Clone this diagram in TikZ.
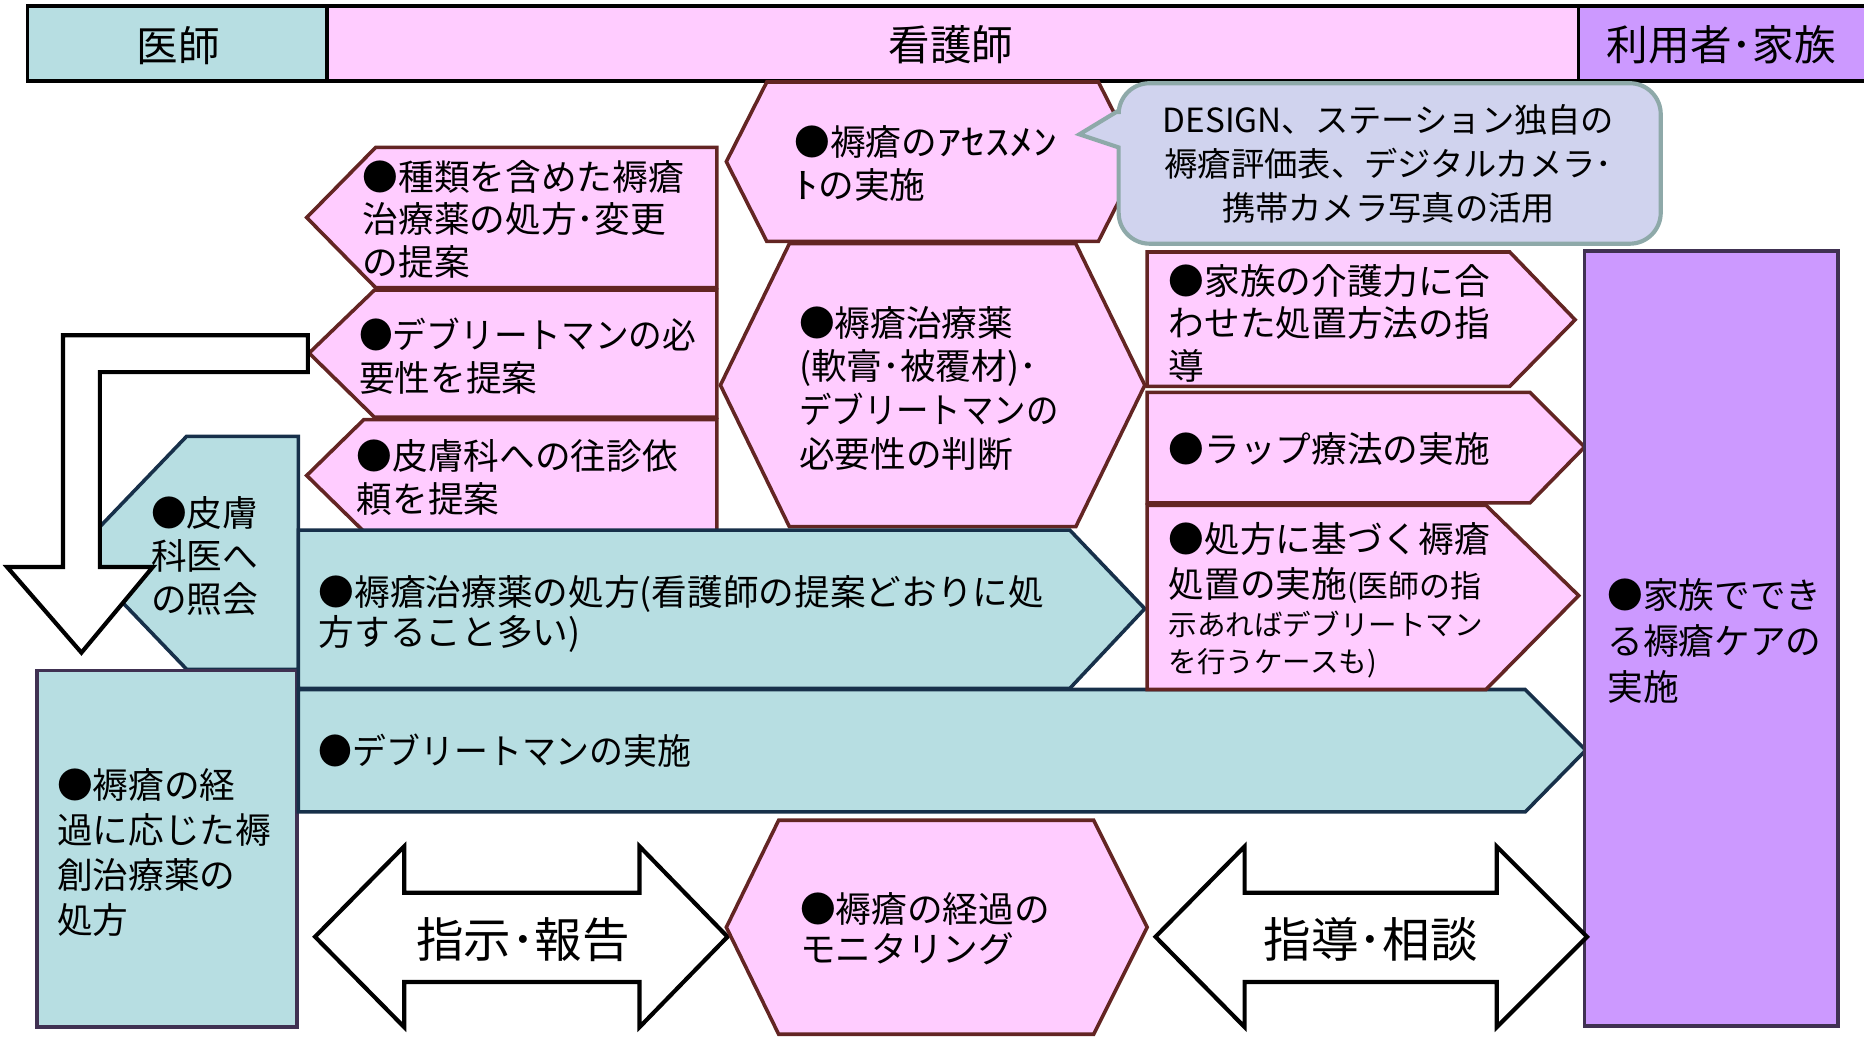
\documentclass[tikz,border=0pt]{standalone}
\usepackage{fontspec}
\usepackage{graphicx}
\newfontfamily\jp{Noto Sans CJK JP}
\definecolor{pinkF}{HTML}{FFCCFF}
\definecolor{pinkD}{HTML}{632523}
\definecolor{tealF}{HTML}{B7DEE2}
\definecolor{tealD}{HTML}{17304A}
\definecolor{purpF}{HTML}{CC99FF}
\definecolor{purpD}{HTML}{403152}
\definecolor{ballF}{HTML}{D0D3EE}
\definecolor{ballD}{HTML}{8EA9A9}
\newcommand{\hk}[1]{\scalebox{1.35}[1]{#1}}
\newcommand{\sq}[2]{\scalebox{#1}[1]{#2}}
\begin{document}
\begin{tikzpicture}[x=1pt,y=-1pt,
  pinkS/.style={fill=pinkF, draw=pinkD, line width=3pt},
  tealS/.style={fill=tealF, draw=tealD, line width=3pt},
  purpS/.style={fill=purpF, draw=purpD, line width=3pt},
  ballS/.style={fill=ballF, draw=ballD, line width=3.5pt},
  whiteArrow/.style={fill=white, draw=black, line width=3.5pt},
  txt/.style={anchor=north west, inner sep=0pt, align=left, font=\jp\fontsize{30}{36}\selectfont},
  hdr/.style={inner sep=0pt, font=\jp\fontsize{35}{40}\selectfont},
  big/.style={inner sep=0pt, font=\jp\fontsize{40}{44}\selectfont}]
\useasboundingbox (0,0) rectangle (1568,873);
% header
\fill[tealF] (23,5) rectangle (275,68);
\fill[pinkF] (275,5) rectangle (1328,68);
\fill[purpF] (1328,5) rectangle (1575,68);
\draw[line width=3pt] (1575,5) -- (23,5) -- (23,68) -- (1575,68);
\draw[line width=3pt] (275,5) -- (275,68) (1328,5) -- (1328,68);
\node[hdr] (hdoc) at (150,38) {医師};
\node[hdr] (hnurse) at (800,38) {看護師};
\node[hdr] (hfam) at (1448,38) {利用者･家族};
% assessment hexagon and balloon
\draw[pinkS] (645,69) -- (924,69) -- (958,136) -- (924,203) -- (645,203) -- (611,136) -- cycle;
\draw[ballS] (941,124) [rounded corners=26] -- (941,205) -- (1397,205) -- (1397,70) -- (941,70) [sharp corners] -- (941,93) -- (908,113) -- cycle;
% judge hexagon
\draw[pinkS] (664,205) -- (905,205) -- (963,324) -- (905,443) -- (664,443) -- (606,324) -- cycle;
% left pentagons
\draw[pinkS] (603,124) -- (316,124) -- (258,183) -- (316,242) -- (603,242) -- cycle;
\draw[pinkS] (603,244) -- (315,244) -- (260,297) -- (315,351) -- (603,351) -- cycle;
\draw[pinkS] (603,353) -- (306,353) -- (258,400) -- (306,447) -- (603,447) -- cycle;
% teal skin shape
\draw[tealS] (251,367) -- (157,367) -- (63,465) -- (157,563) -- (251,563) -- cycle;
% white bent arrow
\draw[whiteArrow, line join=miter] (259,282) -- (53,282) -- (53,477) -- (6,477) -- (68.5,549) -- (128.5,477) -- (84,477) -- (84,313) -- (259,313) -- cycle;
% teal rectangle
\draw[fill=tealF, draw=purpD, line width=3pt] (31,564) rectangle (250,864);
% teal arrows
\draw[tealS] (251,446) -- (900,446) -- (963,512) -- (900,579) -- (251,579) -- cycle;
\draw[tealS] (251,580) -- (1283,580) -- (1334,631) -- (1283,683) -- (251,683) -- cycle;
% right pink arrows
\draw[pinkS] (965,212) -- (1270,212) -- (1325,269) -- (1270,325) -- (965,325) -- cycle;
\draw[pinkS] (965,330) -- (1287,330) -- (1333,376) -- (1287,423) -- (965,423) -- cycle;
\draw[pinkS] (965,425) -- (1250,425) -- (1328,501) -- (1250,580) -- (965,580) -- cycle;
% purple box
\draw[purpS] (1333,211) rectangle (1546,863);
% double arrows
\draw[whiteArrow] (265,788) -- (340,712) -- (340,751) -- (538,751) -- (538,712) -- (612,788) -- (538,864) -- (538,826) -- (340,826) -- (340,864) -- cycle;
\draw[whiteArrow] (972,788) -- (1047,712) -- (1047,751) -- (1259,751) -- (1259,712) -- (1335,788) -- (1259,864) -- (1259,826) -- (1047,826) -- (1047,864) -- cycle;
% monitoring hexagon
\draw[pinkS] (655,690) -- (920,690) -- (965,780) -- (920,870) -- (655,870) -- (611,780) -- cycle;
% texts
\node[inner sep=0pt, align=center, font=\jp\fontsize{28}{37}\selectfont] (balloon) at (1168,138) {DESIGN、ステーション独自の\\褥瘡評価表、デジタルカメラ･\\携帯カメラ写真の活用};
\node[txt] (assess) at (668,105.5) {●褥瘡の\hk{ｱｾｽﾒﾝ}\\\hk{ﾄ}の実施};
\node[txt] (p1) at (305,134.5) {●種類を含めた褥瘡\\治療薬の処方･変更\\の提案};
\node[txt] (p2) at (302,267.5) {\sq{0.945}{●デブリートマンの必}\\要性を提案};
\node[txt] (p3) at (300,369.5) {●皮膚科への往診依\\頼を提案};
\node[txt, font=\jp\fontsize{30}{36.7}\selectfont] (judge) at (672,257.5) {●褥瘡治療薬\\(軟膏･被覆材)･\\\sq{0.91}{デブリートマンの}\\必要性の判断};
\node[txt] (skin) at (127,417.5) {●皮膚\\科医へ\\の照会};
\node[txt, font=\jp\fontsize{30}{34}\selectfont] (presc) at (268,483.5) {●褥瘡治療薬の処方(看護師の提案どおりに処\\方すること多い)};
\node[txt] (debr) at (268,617.5) {\sq{0.95}{●デブリートマンの実施}};
\node[txt, font=\jp\fontsize{30}{37.7}\selectfont] (course) at (48,646.5) {●褥瘡の経\\過に応じた褥\\創治療薬の\\処方};
\node[txt, font=\jp\fontsize{30}{34}\selectfont] (monit) at (673,750.5) {●褥瘡の経過の\\モニタリング};
\node[txt, font=\jp\fontsize{30}{35.5}\selectfont] (guide) at (983,222.5) {●家族の介護力に合\\わせた処置方法の指\\導};
\node[txt] (wrap) at (983,363.5) {●ラップ療法の実施};
\node[txt, font=\jp\fontsize{30}{38}\selectfont] (treat) at (983,439.5) {●処方に基づく褥瘡\\処置の実施{\fontsize{26}{30}\selectfont (医師の指}\\[-6.3pt]{\fontsize{24}{30}\selectfont 示あればデブリートマン}\\[-7pt]{\fontsize{24}{30}\selectfont を行うケースも)}};
\node[txt, font=\jp\fontsize{30}{38.5}\selectfont] (family) at (1352,486.5) {●家族ででき\\る褥瘡ケアの\\実施};
\node[big] (report) at (440,790) {指示･報告};
\node[big] (consult) at (1153,790) {指導･相談};
\end{tikzpicture}
\end{document}
